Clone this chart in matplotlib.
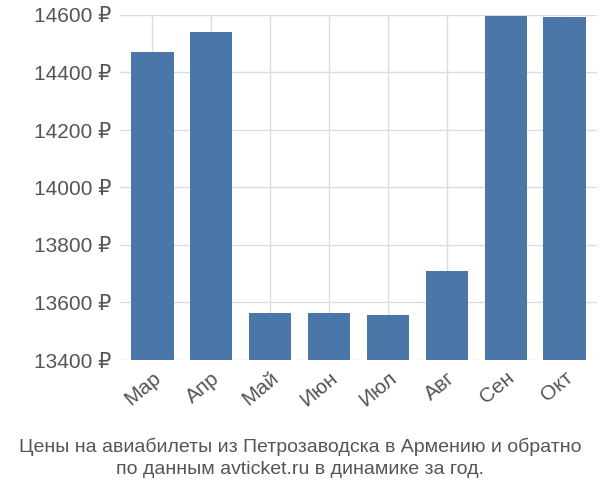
import matplotlib
matplotlib.use("Agg")
import matplotlib.pyplot as plt

months = ["Мар", "Апр", "Май", "Июн", "Июл", "Авг", "Сен", "Окт"]
prices = [14470, 14540, 13562, 13562, 13558, 13710, 14595, 14593]
yticks = [13400, 13600, 13800, 14000, 14200, 14400, 14600]

plt.rcParams['font.family'] = ['Liberation Sans', 'DejaVu Sans']
fig = plt.figure(figsize=(6, 5), dpi=100)
ax = fig.add_axes([0.2, 0.28, 0.795, 0.69])
ax.bar(range(len(months)), prices, width=0.72, color="#4a76a8", zorder=2)
ax.set_ylim(13400, 14600)
ax.set_xlim(-0.55, 7.55)
ax.set_yticks(yticks)
ax.set_yticklabels([f"{v} ₽" for v in yticks], fontsize=15, color="#555555")
ax.set_xticks(range(len(months)))
ax.set_xticklabels(months, rotation=40, ha="right", rotation_mode="anchor", fontsize=15, color="#555555")
ax.grid(axis="both", color="#dddddd", linewidth=1, zorder=0)
for s in ax.spines.values():
    s.set_visible(False)
ax.tick_params(length=0, pad=6)
fig.text(0.5, 0.085, "Цены на авиабилеты из Петрозаводска в Армению и обратно\nпо данным avticket.ru в динамике за год.",
         ha="center", va="center", fontsize=14, color="#555555", linespacing=1.4)
fig.savefig("out.png")
